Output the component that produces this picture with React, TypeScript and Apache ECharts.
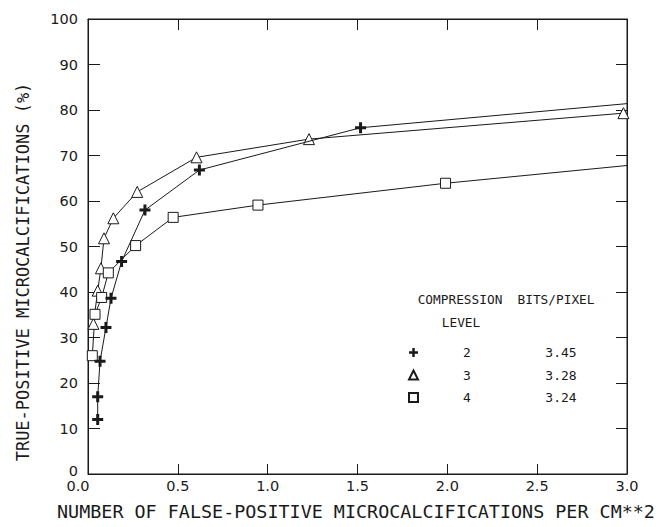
import React, { useEffect, useRef } from "react";
import * as echarts from "echarts";

const FONT = "DejaVu Sans Mono";
const NUMFONT = "DejaVu Sans";
const INK = "#1a1a1a";

// Compression level 2 (plus), 3 (triangle), 4 (square)
const level2X = [0.054, 0.054, 0.067, 0.1, 0.128, 0.187, 0.317, 0.62, 1.517, 3.0];
const level2Y = [12.0, 17.0, 24.8, 32.2, 38.6, 46.7, 58.0, 66.8, 76.1, 81.4];
const level3X = [0.03, 0.054, 0.072, 0.089, 0.141, 0.274, 0.604, 1.23, 2.98];
const level3Y = [33.0, 40.3, 45.2, 51.8, 56.2, 62.0, 69.6, 73.6, 79.3];
const level4X = [0.024, 0.039, 0.076, 0.113, 0.265, 0.474, 0.946, 1.99, 3.0];
const level4Y = [26.0, 35.1, 38.8, 44.2, 50.2, 56.4, 59.1, 63.9, 67.8];

const levels = ["2", "3", "4"];
const bitsPerPixel = ["3.45", "3.28", "3.24"];

const PLUS = "path://M4,0H7V4H11V7H7V11H4V7H0V4H4Z";
const icons = [PLUS, "triangle", "rect"];

function toData(xs: number[], ys: number[], lastOpen: boolean) {
  return xs.map((x, i) => {
    if (lastOpen && i === xs.length - 1) return { value: [x, ys[i]], symbol: "none" };
    return { value: [x, ys[i]] };
  });
}

export default function App() {
  const ref = useRef<HTMLDivElement>(null);
  useEffect(() => {
    if (!ref.current) return;
    const chart = echarts.init(ref.current, undefined, { renderer: "svg" });
    const bitsMap: Record<string, string> = {};
    levels.forEach((l, i) => (bitsMap[l] = bitsPerPixel[i]));
    const lineStyle = { color: INK, width: 1 };
    const axisLine = { show: true, onZero: false, lineStyle: { color: INK } };
    chart.setOption({
      animation: false,
      backgroundColor: "#fff",
      grid: {
        left: 88,
        right: 33,
        top: 19,
        bottom: 53,
        show: true,
        borderColor: INK,
        borderWidth: 1,
      },
      xAxis: [
        {
          type: "value",
          position: "bottom",
          min: 0,
          max: 3,
          interval: 0.5,
          axisLine,
          axisTick: { show: true, inside: true, length: 10, lineStyle: { color: INK } },
          splitLine: { show: false },
          axisLabel: {
            margin: 4,
            color: INK,
            fontFamily: NUMFONT,
            fontSize: 14.5,
            formatter: (v: number) => (v === 0 ? "{z|0.0}" : v.toFixed(1)),
            rich: {
              z: { fontFamily: NUMFONT, fontSize: 14.5, color: INK, padding: [0, 20, 0, 0] },
            },
          },
        },
        {
          type: "value",
          position: "top",
          min: 0,
          max: 3,
          interval: 0.5,
          axisLine,
          axisTick: { show: true, inside: true, length: 11, lineStyle: { color: INK } },
          axisLabel: { show: false },
          splitLine: { show: false },
        },
      ],
      yAxis: [
        {
          type: "value",
          position: "left",
          min: 0,
          max: 100,
          interval: 10,
          axisLine,
          axisTick: { show: true, inside: true, length: 12, lineStyle: { color: INK } },
          splitLine: { show: false },
          axisLabel: {
            margin: 10,
            color: INK,
            fontFamily: NUMFONT,
            fontSize: 14.5,
            formatter: (v: number) => (v === 0 ? "{z|0}" : String(v)),
            rich: {
              z: { fontFamily: NUMFONT, fontSize: 14.5, color: INK, padding: [0, 0, 7, 0] },
            },
          },
        },
        {
          type: "value",
          position: "right",
          min: 0,
          max: 100,
          interval: 10,
          axisLine,
          axisTick: { show: true, inside: true, length: 11, lineStyle: { color: INK } },
          axisLabel: { show: false },
          splitLine: { show: false },
        },
      ],
      legend: {
        orient: "vertical",
        left: 403,
        top: 341,
        itemWidth: 9,
        itemHeight: 9,
        itemGap: 9.5,
        data: levels.map((name, i) => ({ name, icon: icons[i] })),
        formatter: (name: string) => `{l|${name}}{b|${bitsMap[name]}}`,
        textStyle: {
          fontFamily: FONT,
          fontSize: 13,
          color: INK,
          rich: {
            l: { width: 88, align: "center", fontFamily: FONT, fontSize: 13, color: INK, lineHeight: 16 },
            b: { width: 100, align: "center", fontFamily: FONT, fontSize: 13, color: INK, lineHeight: 16 },
          },
        },
      },
      graphic: [
        {
          type: "text",
          x: 23,
          y: 272,
          rotation: Math.PI / 2,
          style: {
            text: "TRUE-POSITIVE MICROCALCIFICATIONS (%)",
            fontFamily: FONT,
            fontSize: 17,
            fill: INK,
            align: "center",
            verticalAlign: "middle",
          },
        },
        {
          type: "text",
          x: 356,
          y: 511,
          style: {
            text: "NUMBER OF FALSE-POSITIVE MICROCALCIFICATIONS PER CM**2",
            fontFamily: FONT,
            fontSize: 18.4,
            fill: INK,
            align: "center",
            verticalAlign: "middle",
          },
        },
        {
          type: "text",
          x: 460,
          y: 299,
          style: { text: "COMPRESSION", fontFamily: FONT, fontSize: 12.8, fill: INK, align: "center", verticalAlign: "middle" },
        },
        {
          type: "text",
          x: 556,
          y: 299,
          style: { text: "BITS/PIXEL", fontFamily: FONT, fontSize: 12.8, fill: INK, align: "center", verticalAlign: "middle" },
        },
        {
          type: "text",
          x: 461,
          y: 322,
          style: { text: "LEVEL", fontFamily: FONT, fontSize: 12.8, fill: INK, align: "center", verticalAlign: "middle" },
        },
      ],
      series: [
        {
          name: levels[0],
          type: "line",
          data: toData(level2X, level2Y, true),
          symbol: PLUS,
          symbolSize: 11,
          showAllSymbol: true,
          itemStyle: { color: INK, borderWidth: 0 },
          lineStyle,
          z: 3,
        },
        {
          name: levels[1],
          type: "line",
          data: toData(level3X, level3Y, false),
          symbol: "triangle",
          symbolSize: 11,
          showAllSymbol: true,
          itemStyle: { color: "#fff", borderColor: INK, borderWidth: 1 },
          lineStyle,
          z: 2,
        },
        {
          name: levels[2],
          type: "line",
          data: toData(level4X, level4Y, true),
          symbol: "rect",
          symbolSize: 10,
          showAllSymbol: true,
          itemStyle: { color: "#fff", borderColor: INK, borderWidth: 1 },
          lineStyle,
          z: 2,
        },
      ],
    });
    return () => chart.dispose();
  }, []);
  return <div ref={ref} style={{ width: 660, height: 527, position: "absolute", left: 0, top: 0 }} />;
}
